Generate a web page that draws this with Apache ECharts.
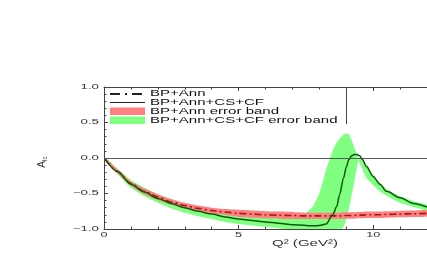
<!DOCTYPE html>
<html><head><meta charset="utf-8">
<script src="https://cdn.jsdelivr.net/npm/echarts@6/dist/echarts.min.js"></script>
<style>html,body{margin:0;padding:0;background:#fff;}#c{width:427px;height:262px;}</style>
</head><body><div id="c"></div>
<script>
// Q^2 grid (GeV^2)
const q2 = [0.05,0.5,1,1.5,2,2.5,3,3.5,4,4.5,5,5.5,6,6.5,7,7.5,7.75,8,8.25,8.5,8.65,8.75,8.9,9,9.1,9.2,9.3,9.4,9.5,9.6,9.75,10,10.25,10.5,11,11.5,12];
// BP+Ann central curve and its error band
const bpAnn     = [-0.02,-0.19,-0.36,-0.47,-0.55,-0.62,-0.67,-0.71,-0.74,-0.76,-0.78,-0.79,-0.80,-0.805,-0.81,-0.815,-0.815,-0.815,-0.815,-0.815,-0.815,-0.815,-0.81,-0.81,-0.81,-0.81,-0.81,-0.805,-0.805,-0.805,-0.80,-0.80,-0.80,-0.795,-0.79,-0.785,-0.78];
const bpAnnLow  = [-0.04,-0.22,-0.39,-0.51,-0.59,-0.66,-0.71,-0.75,-0.78,-0.80,-0.83,-0.84,-0.85,-0.855,-0.86,-0.86,-0.86,-0.86,-0.86,-0.86,-0.86,-0.86,-0.855,-0.855,-0.855,-0.855,-0.855,-0.85,-0.85,-0.85,-0.845,-0.845,-0.845,-0.84,-0.835,-0.83,-0.825];
const bpAnnHigh = [0.00,-0.16,-0.33,-0.43,-0.51,-0.58,-0.63,-0.67,-0.70,-0.72,-0.73,-0.74,-0.75,-0.755,-0.76,-0.77,-0.77,-0.77,-0.77,-0.77,-0.77,-0.77,-0.765,-0.765,-0.765,-0.765,-0.765,-0.76,-0.76,-0.76,-0.755,-0.755,-0.755,-0.75,-0.745,-0.74,-0.735];
// BP+Ann+CS+CF central curve and the two edges of its error band
const full      = [-0.02,-0.19,-0.37,-0.48,-0.57,-0.64,-0.70,-0.75,-0.79,-0.83,-0.86,-0.88,-0.90,-0.92,-0.94,-0.95,-0.955,-0.95,-0.93,-0.80,-0.68,-0.52,-0.28,-0.13,-0.02,0.03,0.05,0.05,0.03,-0.02,-0.12,-0.26,-0.37,-0.47,-0.56,-0.64,-0.69];
const fullEdgeB = [-0.04,-0.23,-0.42,-0.54,-0.63,-0.71,-0.77,-0.82,-0.86,-0.90,-0.93,-0.95,-0.97,-0.99,-1.02,-1.05,-1.05,-1.05,-1.05,-1.05,-1.04,-1.02,-0.97,-0.87,-0.72,-0.52,-0.33,-0.12,0.02,0.00,-0.10,-0.24,-0.35,-0.44,-0.54,-0.61,-0.66];
const fullEdgeA = [0.00,-0.15,-0.31,-0.42,-0.51,-0.58,-0.64,-0.69,-0.73,-0.77,-0.79,-0.81,-0.83,-0.84,-0.83,-0.77,-0.69,-0.50,-0.17,0.11,0.22,0.27,0.33,0.35,0.33,0.25,0.15,0.04,-0.07,-0.16,-0.28,-0.38,-0.47,-0.53,-0.63,-0.69,-0.74];
const xTicks = [0,5,10];
const yTicks = [-1,-0.5,0,0.5,1];
const legendLabels = ['BP+Ann','BP+Ann+CS+CF','BP+Ann error band','BP+Ann+CS+CF error band'];

const FONT = '"Liberation Sans", Arial, sans-serif';
const chart = echarts.init(document.getElementById('c'), null, {renderer:'canvas'});

function bandSeries(edge1, edge2, color){
  return {
    type:'custom', clip:true, silent:true,
    data: q2.map((x,i)=>[x, edge1[i], edge2[i]]),
    encode:{x:0, y:[1,2]},
    renderItem:function(params, api){
      if (params.dataIndex !== 0) return null;
      const pts = [];
      for (let i=0;i<q2.length;i++) pts.push(api.coord([q2[i], edge2[i]]));
      for (let i=q2.length-1;i>=0;i--) pts.push(api.coord([q2[i], edge1[i]]));
      return {type:'polygon', shape:{points:pts, smooth:0.15}, style:{fill:color, blend:'multiply'}};
    },
    z:1
  };
}

const tickAxisX = (pos)=>({
  type:'value', position:pos, min:0, max:12, interval:5,
  axisLine:{show:true, onZero:false, lineStyle:{color:'#444', width:1}},
  axisTick:{show:true, inside:true, length:4, lineStyle:{color:'#444'}},
  minorTick:{show:true, splitNumber:5, length:2.5, lineStyle:{color:'#444'}},
  axisLabel:{show:false}, splitLine:{show:false}
});

chart.setOption({
  animation:false,
  backgroundColor:'#fff',
  grid:{left:104, right:0, top:87, bottom:33},
  xAxis:[tickAxisX('bottom'), tickAxisX('top')],
  yAxis:[{
    type:'value', min:-1, max:1, interval:0.5,
    name:'{a|A}{s|lc}', nameLocation:'middle', nameRotate:90, nameGap:55,
    nameTextStyle:{color:'#333', fontFamily:FONT, padding:[0,0,0,-8],
      rich:{a:{fontSize:10, fontFamily:FONT, color:'#333'}, s:{fontSize:6.5, fontFamily:FONT, color:'#333', padding:[6,0,0,0]}}},
    axisLine:{show:true, onZero:false, lineStyle:{color:'#444', width:1}},
    axisTick:{show:true, inside:true, length:4, lineStyle:{color:'#444'}},
    minorTick:{show:true, splitNumber:5, length:2.5, lineStyle:{color:'#444'}},
    axisLabel:{show:false}, splitLine:{show:false}
  }],
  series:[
    bandSeries(fullEdgeB, fullEdgeA, '#80ff80'),
    bandSeries(bpAnnLow, bpAnnHigh, '#ff8080'),
    {
      type:'line', name:legendLabels[0], data:q2.map((x,i)=>[x,bpAnn[i]]),
      showSymbol:false, symbol:'none', smooth:0.3, smoothMonotone:'x',
      lineStyle:{color:'#a01818', width:1.6, type:[7,3,2,3]}, z:3
    },
    {
      type:'line', name:legendLabels[1], data:q2.map((x,i)=>[x,full[i]]),
      showSymbol:false, symbol:'none', smooth:0.3, smoothMonotone:'x',
      lineStyle:{color:'#0a5a0a', width:1.5}, z:4,
      markLine:{silent:true, symbol:'none', label:{show:false},
        lineStyle:{color:'#555', width:1, type:'solid'}, data:[{yAxis:0}]}
    }
  ]
});

// tick labels and text placed through the chart's own scale
const g = [];
yTicks.forEach(v=>{
  const p = chart.convertToPixel({gridIndex:0}, [0, v]);
  g.push({type:'text', x:p[0]-5, y:p[1], scaleX:1.9, z:10,
    style:{text:v.toFixed(1).replace('-','\u2212'), fontFamily:FONT, fontSize:7, fill:'#333', align:'right', verticalAlign:'middle'}});
});
xTicks.forEach(v=>{
  const p = chart.convertToPixel({gridIndex:0}, [v, -1]);
  g.push({type:'text', x:p[0], y:p[1]+6, scaleX:1.8, z:10,
    style:{text:String(v), fontFamily:FONT, fontSize:7, fill:'#333', align:'center', verticalAlign:'middle'}});
});
// x axis title
g.push({type:'text', x:272, y:244, scaleX:1.67, z:10,
  style:{text:'Q\u00b2 (GeV\u00b2)', fontFamily:FONT, fontSize:9, fill:'#333', align:'left', verticalAlign:'middle'}});
// legend
const rowY = [94, 102.5, 111.3, 120.3];
g.push({type:'line', z:10, shape:{x1:110, y1:rowY[0], x2:145, y2:rowY[0]}, style:{stroke:'#222', lineWidth:2, lineDash:[10,5,2,5]}});
g.push({type:'line', z:10, shape:{x1:110, y1:rowY[1], x2:145, y2:rowY[1]}, style:{stroke:'#222', lineWidth:1.2}});
g.push({type:'rect', z:10, shape:{x:110, y:rowY[2]-3.7, width:35, height:7.4}, style:{fill:'#ff8080'}});
g.push({type:'rect', z:10, shape:{x:110, y:rowY[3]-3.7, width:35, height:7.4}, style:{fill:'#80ff80'}});
legendLabels.forEach((t,i)=>{
  g.push({type:'text', x:150, y:rowY[i], scaleX:1.67, z:10,
    style:{text:t, fontFamily:FONT, fontSize:9, fill:'#111', align:'left', verticalAlign:'middle'}});
});
g.push({type:'line', z:10, shape:{x1:346.5, y1:87, x2:346.5, y2:124}, style:{stroke:'#444', lineWidth:1}});
chart.setOption({graphic:g});
</script>
</body></html>
